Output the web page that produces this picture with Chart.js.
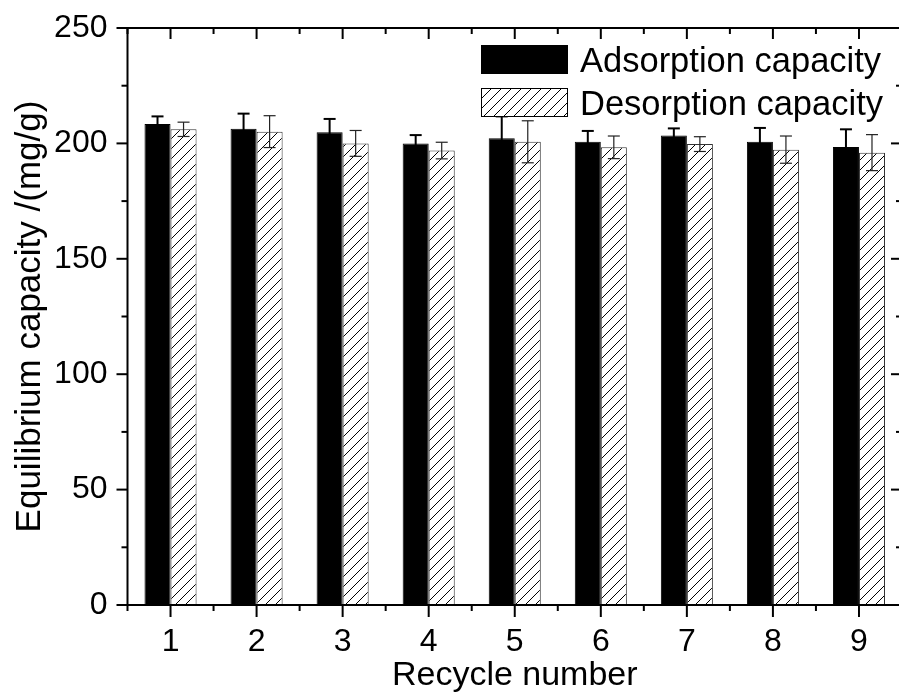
<!DOCTYPE html>
<html>
<head>
<meta charset="utf-8">
<script src="https://cdn.jsdelivr.net/npm/chart.js@4.4.1/dist/chart.umd.min.js"></script>
<style>
html, body { margin: 0; padding: 0; background: #fff; overflow: hidden; }
</style>
</head>
<body>
<canvas id="chart" width="902" height="696"></canvas>
<script>
// data
var cycles = ['1', '2', '3', '4', '5', '6', '7', '8', '9'];
var adsorption = [208.4, 206.4, 204.8, 200.0, 202.2, 200.7, 203.4, 200.7, 198.4];
var adsorptionErr = [3.3, 6.5, 5.8, 3.6, 9.5, 4.7, 3.1, 6.0, 7.7];
var desorption = [206.1, 205.1, 200.0, 196.9, 200.7, 198.3, 199.7, 197.3, 196.0];
var desorptionErr = [3.1, 6.9, 5.6, 3.6, 9.1, 4.9, 3.2, 5.9, 7.8];
var yMajor = [0, 50, 100, 150, 200, 250];
var yMinor = [25, 75, 125, 175, 225];

var FONT = '"Liberation Sans", Arial, sans-serif';
var ctx = document.getElementById('chart').getContext('2d');

function makeHatch() {
	var s = 10;
	var c = document.createElement('canvas');
	c.width = s; c.height = s;
	var g = c.getContext('2d');
	g.fillStyle = '#fff';
	g.fillRect(0, 0, s, s);
	g.strokeStyle = '#000';
	g.lineWidth = 1;
	g.beginPath();
	g.moveTo(-1, s + 1); g.lineTo(s + 1, -1);
	g.moveTo(-1, 1); g.lineTo(1, -1);
	g.moveTo(s - 1, s + 1); g.lineTo(s + 1, s - 1);
	g.stroke();
	return ctx.createPattern(c, 'repeat');
}
var hatch = makeHatch();

function line(c, x1, y1, x2, y2) {
	c.beginPath();
	c.moveTo(x1, y1);
	c.lineTo(x2, y2);
	c.stroke();
}

// error bars on top of the bars
var errorBars = {
	id: 'errorBars',
	afterDatasetsDraw: function(chart) {
		var c = chart.ctx, y = chart.scales.y;
		chart.data.datasets.forEach(function(ds, i) {
			var meta = chart.getDatasetMeta(i);
			c.save();
			c.strokeStyle = ds.errColor;
			c.lineWidth = ds.errWidth;
			meta.data.forEach(function(bar, j) {
				var v = ds.data[j], e = ds.errors[j];
				var top = y.getPixelForValue(v + e), bot = y.getPixelForValue(v - e);
				line(c, bar.x, top, bar.x, bot);
				line(c, bar.x - 6, top, bar.x + 6, top);
				line(c, bar.x - 6, bot, bar.x + 6, bot);
			});
			c.restore();
		});
	}
};

// boxed frame with ticks, like the original plot
var frame = {
	id: 'frame',
	afterDraw: function(chart) {
		var c = chart.ctx, a = chart.chartArea, x = chart.scales.x, y = chart.scales.y;
		c.save();
		c.strokeStyle = '#000';
		c.lineWidth = 2;
		c.strokeRect(a.left, a.top, a.right - a.left, a.bottom - a.top);
		yMajor.forEach(function(v) {
			var p = y.getPixelForValue(v);
			line(c, a.left - 11, p, a.left, p);
			line(c, a.right - 11, p, a.right, p);
		});
		yMinor.forEach(function(v) {
			var p = y.getPixelForValue(v);
			line(c, a.left - 6, p, a.left, p);
			line(c, a.right - 6, p, a.right, p);
		});
		var half = (x.getPixelForValue(1) - x.getPixelForValue(0)) / 2;
		cycles.forEach(function(l, i) {
			var p = x.getPixelForValue(i);
			line(c, p, a.bottom, p, a.bottom + 12);
			line(c, p, a.top, p, a.top + 11);
			line(c, p - half, a.bottom, p - half, a.bottom + 6);
			line(c, p - half, a.top, p - half, a.top + 6);
		});
		c.restore();

		// legend
		c.save();
		var items = chart.data.datasets;
		items.forEach(function(ds, i) {
			var bx = 481, by = 45 + i * 43;
			c.fillStyle = ds.backgroundColor;
			c.fillRect(bx, by, 87, 29);
			c.strokeStyle = '#000';
			c.lineWidth = 1;
			c.strokeRect(bx + 0.5, by + 0.5, 86, 28);
			c.fillStyle = '#000';
			c.font = '34.5px ' + FONT;
			c.textBaseline = 'alphabetic';
			c.textAlign = 'left';
			c.fillText(ds.label, 580, by + 27);
		});
		c.restore();
	}
};

new Chart(ctx, {
	type: 'bar',
	data: {
		labels: cycles,
		datasets: [{
			label: 'Adsorption capacity',
			data: adsorption,
			errors: adsorptionErr,
			errColor: '#000',
			errWidth: 2,
			backgroundColor: '#000',
			borderColor: '#000',
			borderWidth: 1
		}, {
			label: 'Desorption capacity',
			data: desorption,
			errors: desorptionErr,
			errColor: '#222',
			errWidth: 1.2,
			backgroundColor: hatch,
			borderColor: '#333',
			borderWidth: 1
		}]
	},
	options: {
		responsive: false,
		animation: false,
		devicePixelRatio: 1,
		barPercentage: 1,
		categoryPercentage: 0.605,
		layout: { padding: { top: 28, right: 0, left: 0, bottom: 0 } },
		plugins: {
			legend: { display: false },
			tooltip: { enabled: false }
		},
		scales: {
			x: {
				grid: { display: false, drawTicks: false },
				border: { display: false },
				ticks: { color: '#000', font: { size: 32, family: FONT }, padding: 17.5, maxRotation: 0 },
				title: { display: true, text: 'Recycle number', color: '#000', font: { size: 34, family: FONT }, padding: { top: 0, bottom: 0 } },
				afterFit: function(s) {
					s.height = 91;
					s.paddingLeft = 0; s.paddingRight = 0;
				}
			},
			y: {
				min: 0,
				max: 250,
				grid: { display: false, drawTicks: false },
				border: { display: false },
				ticks: { stepSize: 50, color: '#000', font: { size: 32, family: FONT }, padding: 20 },
				title: { display: true, text: 'Equilibrium capacity /(mg/g)', color: '#000', font: { size: 35, family: FONT }, padding: { top: 9, bottom: 0 } },
				afterFit: function(s) {
					s.width = 127.5;
					s.paddingTop = 0; s.paddingBottom = 0;
				}
			}
		}
	},
	plugins: [errorBars, frame]
});
</script>
</body>
</html>
